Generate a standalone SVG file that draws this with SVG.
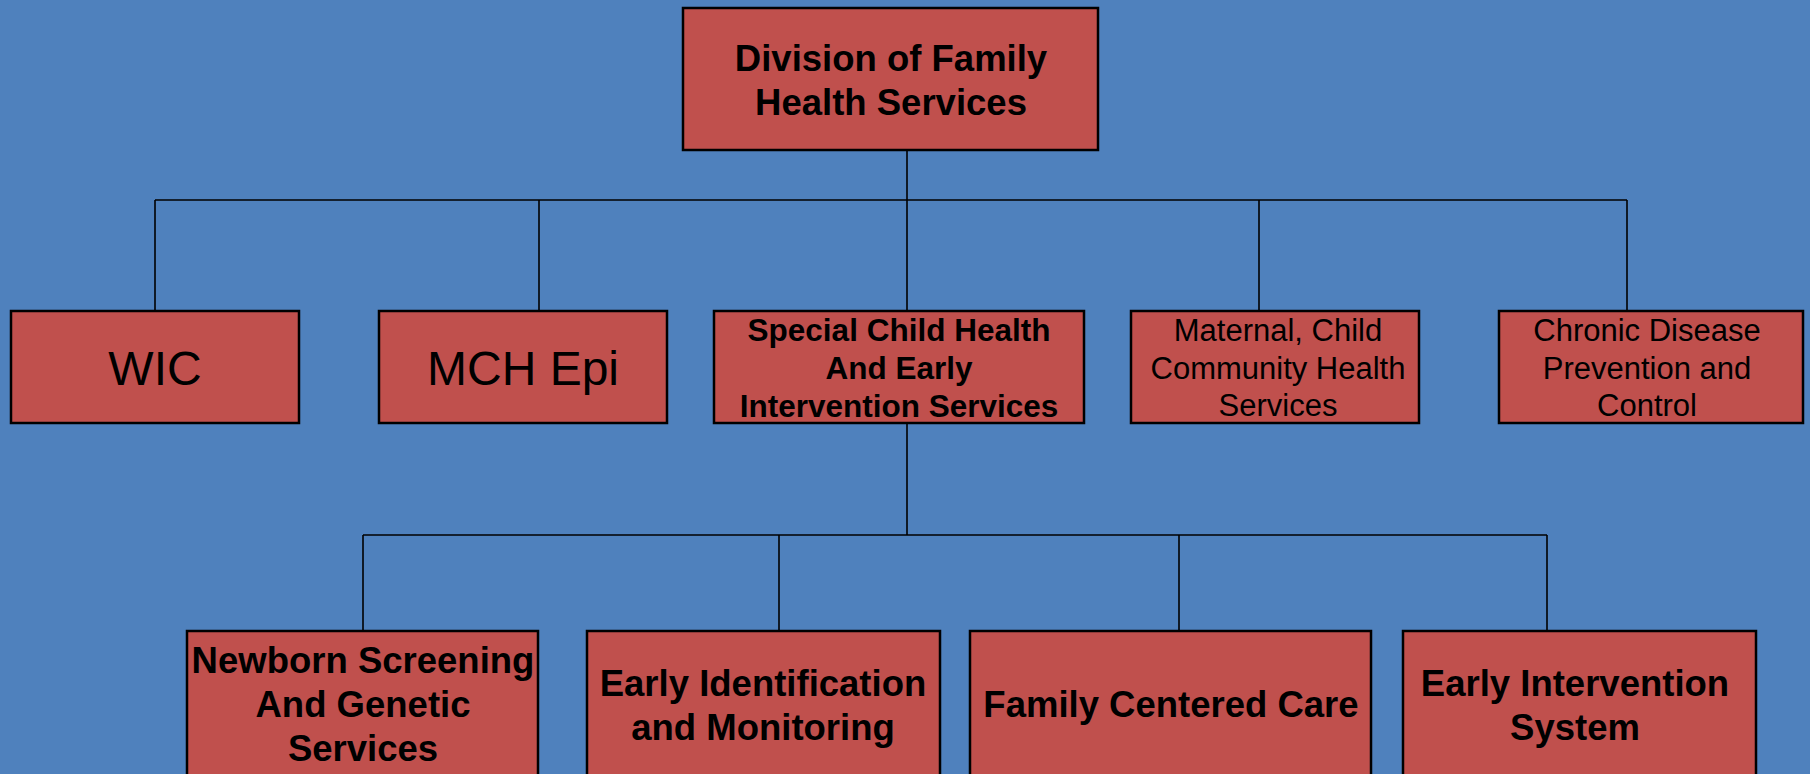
<svg xmlns="http://www.w3.org/2000/svg" width="1810" height="774" viewBox="0 0 1810 774">
<style>
.box{fill:#C0504D;stroke:#000;stroke-width:2.5}
.t{font-family:"Liberation Sans",Arial,sans-serif;fill:#000;text-anchor:middle}
.b{font-weight:bold}
.conn line{stroke:#000;stroke-width:1.6}
</style>
<rect width="1810" height="774" fill="#4F81BD"/>
<g id="connectors" class="conn">
<line x1="907" y1="150" x2="907" y2="200"/>
<line x1="155" y1="200" x2="1627" y2="200"/>
<line x1="155" y1="200" x2="155" y2="311"/>
<line x1="539" y1="200" x2="539" y2="311"/>
<line x1="907" y1="200" x2="907" y2="311"/>
<line x1="1259" y1="200" x2="1259" y2="311"/>
<line x1="1627" y1="200" x2="1627" y2="311"/>
<line x1="907" y1="423" x2="907" y2="535"/>
<line x1="363" y1="535" x2="1547" y2="535"/>
<line x1="363" y1="535" x2="363" y2="631"/>
<line x1="779" y1="535" x2="779" y2="631"/>
<line x1="1179" y1="535" x2="1179" y2="631"/>
<line x1="1547" y1="535" x2="1547" y2="631"/>
</g>
<g id="division">
<rect class="box" x="683" y="8" width="415" height="142"/>
<text class="t b" font-size="36.5" x="891" y="71">Division of Family</text>
<text class="t b" font-size="36.5" x="891" y="115">Health Services</text>
</g>
<g id="wic">
<rect class="box" x="11" y="311" width="288" height="112"/>
<text class="t" font-size="48" x="155" y="385">WIC</text>
</g>
<g id="mchepi">
<rect class="box" x="379" y="311" width="288" height="112"/>
<text class="t" font-size="48" x="523" y="385">MCH Epi</text>
</g>
<g id="special">
<rect class="box" x="714" y="311" width="370" height="112"/>
<text class="t b" font-size="31.5" x="899" y="341">Special Child Health</text>
<text class="t b" font-size="31.5" x="899" y="379">And Early</text>
<text class="t b" font-size="31.5" x="899" y="417">Intervention Services</text>
</g>
<g id="maternal">
<rect class="box" x="1131" y="311" width="288" height="112"/>
<text class="t" font-size="31" x="1278" y="341">Maternal, Child</text>
<text class="t" font-size="31" x="1278" y="379">Community Health</text>
<text class="t" font-size="31" x="1278" y="416">Services</text>
</g>
<g id="chronic">
<rect class="box" x="1499" y="311" width="304" height="112"/>
<text class="t" font-size="31" x="1647" y="341">Chronic Disease</text>
<text class="t" font-size="31" x="1647" y="379">Prevention and</text>
<text class="t" font-size="31" x="1647" y="416">Control</text>
</g>
<g id="newborn">
<rect class="box" x="187" y="631" width="351" height="160"/>
<text class="t b" font-size="36.5" x="363" y="673">Newborn Screening</text>
<text class="t b" font-size="36.5" x="363" y="717">And Genetic</text>
<text class="t b" font-size="36.5" x="363" y="761">Services</text>
</g>
<g id="earlyid">
<rect class="box" x="587" y="631" width="353" height="160"/>
<text class="t b" font-size="36.5" x="763" y="696">Early Identification</text>
<text class="t b" font-size="36.5" x="763" y="740">and Monitoring</text>
</g>
<g id="familycare">
<rect class="box" x="970" y="631" width="401" height="160"/>
<text class="t b" font-size="36.5" x="1171" y="717">Family Centered Care</text>
</g>
<g id="eisystem">
<rect class="box" x="1403" y="631" width="353" height="160"/>
<text class="t b" font-size="36.5" x="1575" y="696">Early Intervention</text>
<text class="t b" font-size="36.5" x="1575" y="740">System</text>
</g>
</svg>
